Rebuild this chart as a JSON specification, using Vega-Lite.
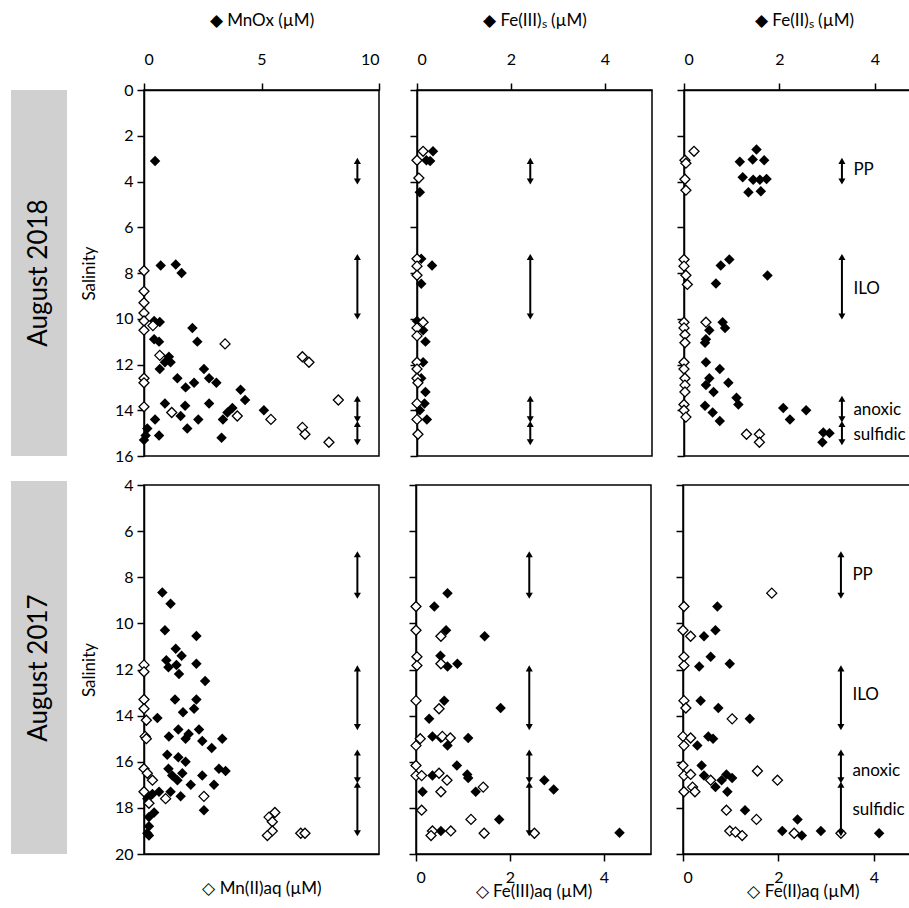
{
"$schema":"https://vega.github.io/schema/vega-lite/v6.json",
"padding":{"left":10,"top":10,"right":0,"bottom":0},
"config":{"font":"Lato","view":{"stroke":"black","strokeWidth":1.5},"axis":{"grid":false,"domainColor":"black","tickColor":"black","labelColor":"black","titleColor":"black","labelFontSize":16,"titleFontSize":17,"titleFontWeight":"normal","tickSize":7,"domainWidth":1.5,"tickWidth":1.5,"labelFont":"Lato","titleFont":"Lato"}},
"datasets":{
"m18":[{"k":"s","x":0.47,"y":3.1},{"k":"s","x":0.71,"y":7.67},{"k":"s","x":1.35,"y":7.63},{"k":"s","x":1.6,"y":8.0},{"k":"s","x":0.43,"y":10.1},{"k":"s","x":0.67,"y":10.14},{"k":"s","x":2.06,"y":10.4},{"k":"s","x":2.27,"y":11.0},{"k":"s","x":0.43,"y":10.9},{"k":"s","x":0.64,"y":11.0},{"k":"s","x":1.06,"y":11.66},{"k":"s","x":1.13,"y":11.9},{"k":"s","x":0.67,"y":12.2},{"k":"s","x":0.89,"y":11.9},{"k":"s","x":2.55,"y":12.2},{"k":"s","x":1.42,"y":12.6},{"k":"s","x":1.77,"y":13.0},{"k":"s","x":2.13,"y":12.8},{"k":"s","x":2.77,"y":12.6},{"k":"s","x":3.08,"y":12.8},{"k":"s","x":4.11,"y":13.1},{"k":"s","x":4.3,"y":13.55},{"k":"s","x":0.89,"y":13.7},{"k":"s","x":1.75,"y":13.8},{"k":"s","x":1.56,"y":14.25},{"k":"s","x":2.77,"y":13.7},{"k":"s","x":3.76,"y":13.9},{"k":"s","x":3.55,"y":14.1},{"k":"s","x":3.36,"y":14.4},{"k":"s","x":5.1,"y":14.0},{"k":"s","x":0.47,"y":14.4},{"k":"s","x":2.31,"y":14.4},{"k":"s","x":1.84,"y":14.8},{"k":"s","x":3.3,"y":15.2},{"k":"s","x":0.64,"y":15.1},{"k":"s","x":0.14,"y":14.8},{"k":"s","x":0.07,"y":15.1},{"k":"s","x":0.0,"y":15.3},
{"k":"aq","x":0,"y":7.9},{"k":"aq","x":0,"y":8.8},{"k":"aq","x":0,"y":9.3},{"k":"aq","x":0,"y":9.75},{"k":"aq","x":0,"y":10.1},{"k":"aq","x":0,"y":10.5},{"k":"aq","x":0.38,"y":10.3},{"k":"aq","x":3.45,"y":11.1},{"k":"aq","x":0.67,"y":11.6},{"k":"aq","x":0,"y":12.6},{"k":"aq","x":0,"y":12.8},{"k":"aq","x":0,"y":13.85},{"k":"aq","x":1.18,"y":14.1},{"k":"aq","x":3.97,"y":14.25},{"k":"aq","x":5.4,"y":14.4},{"k":"aq","x":6.74,"y":11.66},{"k":"aq","x":7.02,"y":11.9},{"k":"aq","x":8.27,"y":13.55},{"k":"aq","x":6.74,"y":14.75},{"k":"aq","x":6.85,"y":15.05},{"k":"aq","x":7.87,"y":15.4}],
"f318":[{"k":"s","x":0.34,"y":2.68},{"k":"s","x":0.28,"y":3.1},{"k":"s","x":0.2,"y":3.07},{"k":"s","x":0.06,"y":4.47},{"k":"s","x":0.09,"y":7.38},{"k":"s","x":0.32,"y":7.67},{"k":"s","x":0.09,"y":8.47},{"k":"s","x":0.0,"y":10.1},{"k":"s","x":0.13,"y":10.5},{"k":"s","x":0.18,"y":11.0},{"k":"s","x":0.13,"y":11.9},{"k":"s","x":0.09,"y":12.6},{"k":"s","x":0.18,"y":13.2},{"k":"s","x":0.16,"y":13.7},{"k":"s","x":0.06,"y":14.0},{"k":"s","x":0.21,"y":14.4},
{"k":"aq","x":0.13,"y":2.68},{"k":"aq","x":0,"y":3.07},{"k":"aq","x":0.04,"y":3.85},{"k":"aq","x":0,"y":7.38},{"k":"aq","x":0,"y":7.7},{"k":"aq","x":0,"y":8.1},{"k":"aq","x":0.13,"y":10.15},{"k":"aq","x":0,"y":10.4},{"k":"aq","x":0,"y":10.75},{"k":"aq","x":0,"y":11.9},{"k":"aq","x":0,"y":12.2},{"k":"aq","x":0,"y":12.6},{"k":"aq","x":0.02,"y":12.8},{"k":"aq","x":0,"y":13.7},{"k":"aq","x":0,"y":14.4},{"k":"aq","x":0.02,"y":15.05}],
"f218":[{"k":"s","x":1.52,"y":2.6},{"k":"s","x":1.17,"y":3.14},{"k":"s","x":1.44,"y":3.04},{"k":"s","x":1.68,"y":3.07},{"k":"s","x":1.23,"y":3.81},{"k":"s","x":1.45,"y":3.92},{"k":"s","x":1.59,"y":3.92},{"k":"s","x":1.73,"y":3.89},{"k":"s","x":1.35,"y":4.47},{"k":"s","x":1.61,"y":4.43},{"k":"s","x":0.95,"y":7.41},{"k":"s","x":0.77,"y":7.67},{"k":"s","x":0.67,"y":8.46},{"k":"s","x":1.75,"y":8.11},{"k":"s","x":0.81,"y":10.15},{"k":"s","x":0.86,"y":10.4},{"k":"s","x":0.53,"y":10.5},{"k":"s","x":0.46,"y":10.9},{"k":"s","x":0.44,"y":11.05},{"k":"s","x":0.46,"y":11.9},{"k":"s","x":0.75,"y":12.2},{"k":"s","x":0.53,"y":12.6},{"k":"s","x":0.93,"y":12.8},{"k":"s","x":0.46,"y":12.9},{"k":"s","x":0.62,"y":13.2},{"k":"s","x":1.1,"y":13.45},{"k":"s","x":1.14,"y":13.75},{"k":"s","x":0.44,"y":13.8},{"k":"s","x":0.6,"y":14.1},{"k":"s","x":0.75,"y":14.47},{"k":"s","x":2.08,"y":13.9},{"k":"s","x":2.22,"y":14.4},{"k":"s","x":2.56,"y":14.0},{"k":"s","x":2.92,"y":14.97},{"k":"s","x":3.05,"y":15.0},{"k":"s","x":2.9,"y":15.4},
{"k":"aq","x":0.21,"y":2.68},{"k":"aq","x":0.02,"y":3.07},{"k":"aq","x":0.04,"y":3.2},{"k":"aq","x":0.02,"y":3.9},{"k":"aq","x":0.04,"y":4.38},{"k":"aq","x":0,"y":7.41},{"k":"aq","x":0,"y":7.7},{"k":"aq","x":0.04,"y":8.1},{"k":"aq","x":0.07,"y":8.5},{"k":"aq","x":0,"y":10.15},{"k":"aq","x":0,"y":10.4},{"k":"aq","x":0.02,"y":10.7},{"k":"aq","x":0.02,"y":11.05},{"k":"aq","x":0.46,"y":10.15},{"k":"aq","x":0,"y":11.9},{"k":"aq","x":0,"y":12.2},{"k":"aq","x":0.02,"y":12.6},{"k":"aq","x":0.02,"y":12.9},{"k":"aq","x":0.02,"y":13.2},{"k":"aq","x":0,"y":13.75},{"k":"aq","x":0,"y":14.0},{"k":"aq","x":0.04,"y":14.3},{"k":"aq","x":1.31,"y":15.05},{"k":"aq","x":1.58,"y":15.05},{"k":"aq","x":1.58,"y":15.4}],
"m17":[{"k":"s","x":0.78,"y":8.66},{"k":"s","x":1.13,"y":9.15},{"k":"s","x":0.89,"y":10.3},{"k":"s","x":2.23,"y":10.55},{"k":"s","x":1.35,"y":11.1},{"k":"s","x":1.6,"y":11.4},{"k":"s","x":0.95,"y":11.6},{"k":"s","x":1.04,"y":11.9},{"k":"s","x":1.38,"y":11.8},{"k":"s","x":1.49,"y":12.2},{"k":"s","x":2.23,"y":11.75},{"k":"s","x":2.6,"y":12.5},{"k":"s","x":1.32,"y":13.3},{"k":"s","x":2.23,"y":13.3},{"k":"s","x":2.13,"y":13.7},{"k":"s","x":1.66,"y":13.85},{"k":"s","x":0.57,"y":14.1},{"k":"s","x":1.46,"y":14.6},{"k":"s","x":2.34,"y":14.6},{"k":"s","x":1.77,"y":15.0},{"k":"s","x":1.9,"y":14.8},{"k":"s","x":1.06,"y":14.9},{"k":"s","x":2.48,"y":15.1},{"k":"s","x":2.88,"y":15.4},{"k":"s","x":3.33,"y":15.0},{"k":"s","x":0.99,"y":15.7},{"k":"s","x":1.46,"y":15.8},{"k":"s","x":1.77,"y":16.0},{"k":"s","x":1.04,"y":16.3},{"k":"s","x":3.19,"y":16.3},{"k":"s","x":3.47,"y":16.4},{"k":"s","x":2.48,"y":16.6},{"k":"s","x":2.98,"y":17.0},{"k":"s","x":1.2,"y":16.6},{"k":"s","x":1.63,"y":16.5},{"k":"s","x":1.42,"y":16.8},{"k":"s","x":1.99,"y":17.0},{"k":"s","x":1.56,"y":17.5},{"k":"s","x":1.13,"y":17.3},{"k":"s","x":0.64,"y":17.3},{"k":"s","x":0.36,"y":17.4},{"k":"s","x":0.43,"y":18.2},{"k":"s","x":0.21,"y":18.4},{"k":"s","x":0.21,"y":18.8},{"k":"s","x":0.21,"y":19.2},{"k":"s","x":2.55,"y":18.1},{"k":"s","x":0.14,"y":17.6},{"k":"s","x":0.14,"y":19.1},
{"k":"aq","x":0,"y":11.8},{"k":"aq","x":0,"y":12.1},{"k":"aq","x":0,"y":13.3},{"k":"aq","x":0,"y":13.7},{"k":"aq","x":0.1,"y":14.2},{"k":"aq","x":0.05,"y":14.9},{"k":"aq","x":0.1,"y":15.0},{"k":"aq","x":0,"y":16.3},{"k":"aq","x":0.14,"y":16.5},{"k":"aq","x":0.36,"y":16.8},{"k":"aq","x":0,"y":17.3},{"k":"aq","x":0.21,"y":17.8},{"k":"aq","x":0.92,"y":17.6},{"k":"aq","x":2.55,"y":17.5},{"k":"aq","x":5.32,"y":18.4},{"k":"aq","x":5.57,"y":18.2},{"k":"aq","x":5.46,"y":18.6},{"k":"aq","x":5.46,"y":19.0},{"k":"aq","x":5.25,"y":19.2},{"k":"aq","x":6.67,"y":19.1},{"k":"aq","x":6.85,"y":19.1}],
"f317":[{"k":"s","x":0.67,"y":8.69},{"k":"s","x":0.39,"y":9.27},{"k":"s","x":0.64,"y":10.3},{"k":"s","x":1.46,"y":10.56},{"k":"s","x":0.52,"y":11.4},{"k":"s","x":0.67,"y":11.87},{"k":"s","x":0.88,"y":11.75},{"k":"s","x":0.6,"y":13.35},{"k":"s","x":1.8,"y":13.67},{"k":"s","x":0.28,"y":14.14},{"k":"s","x":0.35,"y":14.9},{"k":"s","x":0.53,"y":14.97},{"k":"s","x":0.67,"y":15.3},{"k":"s","x":1.11,"y":14.97},{"k":"s","x":0.87,"y":16.16},{"k":"s","x":0.35,"y":16.6},{"k":"s","x":1.09,"y":16.55},{"k":"s","x":1.11,"y":16.7},{"k":"s","x":0.14,"y":17.3},{"k":"s","x":1.27,"y":17.3},{"k":"s","x":2.73,"y":16.8},{"k":"s","x":2.93,"y":17.2},{"k":"s","x":1.77,"y":18.5},{"k":"s","x":0.53,"y":19.0},{"k":"s","x":4.33,"y":19.08},
{"k":"aq","x":0,"y":9.27},{"k":"aq","x":0,"y":10.3},{"k":"aq","x":0.02,"y":11.45},{"k":"aq","x":0.02,"y":11.83},{"k":"aq","x":0.53,"y":10.56},{"k":"aq","x":0.53,"y":11.75},{"k":"aq","x":0,"y":13.35},{"k":"aq","x":0.49,"y":13.7},{"k":"aq","x":0.09,"y":15.0},{"k":"aq","x":0,"y":15.3},{"k":"aq","x":0.56,"y":14.9},{"k":"aq","x":0.73,"y":14.97},{"k":"aq","x":0,"y":16.16},{"k":"aq","x":0,"y":16.6},{"k":"aq","x":0.12,"y":16.6},{"k":"aq","x":0.49,"y":16.5},{"k":"aq","x":0.66,"y":16.8},{"k":"aq","x":0.53,"y":17.3},{"k":"aq","x":1.43,"y":17.1},{"k":"aq","x":0.12,"y":18.1},{"k":"aq","x":1.17,"y":18.5},{"k":"aq","x":0.35,"y":19.0},{"k":"aq","x":0.32,"y":19.2},{"k":"aq","x":0.74,"y":19.0},{"k":"aq","x":1.45,"y":19.1},{"k":"aq","x":2.52,"y":19.1}],
"f217":[{"k":"s","x":0.72,"y":9.27},{"k":"s","x":0.44,"y":10.56},{"k":"s","x":0.68,"y":10.3},{"k":"s","x":0.34,"y":11.87},{"k":"s","x":0.58,"y":11.45},{"k":"s","x":0.98,"y":11.75},{"k":"s","x":0.37,"y":13.35},{"k":"s","x":0.74,"y":13.67},{"k":"s","x":1.4,"y":14.14},{"k":"s","x":0.3,"y":15.3},{"k":"s","x":0.53,"y":14.9},{"k":"s","x":0.63,"y":15.0},{"k":"s","x":0.39,"y":16.16},{"k":"s","x":0.44,"y":16.6},{"k":"s","x":0.68,"y":17.1},{"k":"s","x":0.81,"y":16.8},{"k":"s","x":0.91,"y":16.55},{"k":"s","x":1.03,"y":16.7},{"k":"s","x":0.93,"y":17.3},{"k":"s","x":1.3,"y":18.1},{"k":"s","x":2.4,"y":18.5},{"k":"s","x":2.08,"y":19.0},{"k":"s","x":2.49,"y":19.2},{"k":"s","x":2.89,"y":19.0},{"k":"s","x":4.11,"y":19.1},
{"k":"aq","x":1.86,"y":8.69},{"k":"aq","x":0.02,"y":9.27},{"k":"aq","x":0,"y":10.3},{"k":"aq","x":0.16,"y":10.56},{"k":"aq","x":0.02,"y":11.45},{"k":"aq","x":0.02,"y":11.83},{"k":"aq","x":0.02,"y":13.35},{"k":"aq","x":0.06,"y":13.67},{"k":"aq","x":1.03,"y":14.14},{"k":"aq","x":0,"y":14.9},{"k":"aq","x":0.16,"y":14.97},{"k":"aq","x":0.02,"y":15.3},{"k":"aq","x":0,"y":16.16},{"k":"aq","x":0.02,"y":16.6},{"k":"aq","x":0.16,"y":16.55},{"k":"aq","x":0.2,"y":17.1},{"k":"aq","x":0.25,"y":17.3},{"k":"aq","x":0.02,"y":17.3},{"k":"aq","x":0.58,"y":16.8},{"k":"aq","x":1.56,"y":16.4},{"k":"aq","x":1.98,"y":16.8},{"k":"aq","x":0.91,"y":18.1},{"k":"aq","x":1.54,"y":18.5},{"k":"aq","x":0.98,"y":19.0},{"k":"aq","x":1.1,"y":19.05},{"k":"aq","x":1.24,"y":19.2},{"k":"aq","x":2.33,"y":19.1},{"k":"aq","x":3.31,"y":19.1}],
"arr18":[{"y":3.1,"y2":4.0},{"y":7.3,"y2":9.9},{"y":13.5,"y2":14.4},{"y":14.6,"y2":15.4}],
"arr17":[{"y":7.0,"y2":8.8},{"y":11.95,"y2":14.5},{"y":15.6,"y2":16.8},{"y":17.0,"y2":19.1}],
"lab18":[{"t":"PP","y":3.5},{"t":"ILO","y":8.7},{"t":"anoxic","y":14.0},{"t":"sulfidic","y":15.1}],
"lab17":[{"t":"PP","y":7.9},{"t":"ILO","y":13.1},{"t":"anoxic","y":16.4},{"t":"sulfidic","y":18.1}]
},
"vconcat":[
{"hconcat":[
{"width":235,"height":366,"layer":[
{"data":{"values":[{"t":"August 2018"}]},"mark":{"type":"rect","color":"#d0d0d0"},"encoding":{"x":{"value":-133},"x2":{"value":-77},"y":{"value":0},"y2":{"value":"height"}}},
{"data":{"values":[{"t":"August 2018"}]},"mark":{"type":"text","angle":270,"fontSize":26,"font":"Lato","color":"black"},"encoding":{"x":{"value":-105},"y":{"value":183},"text":{"field":"t"}}},
{"data":{"name":"m18"},"transform":[{"filter":"datum.k=='s'"}],"mark":{"type":"point","shape":"diamond","filled":true,"color":"black","size":110,"opacity":1},"encoding":{"x":{"field":"x","type":"quantitative","scale":{"domain":[0,10],"nice":false},"axis":{"orient":"top","values":[0,5,10],"title":"◆ MnOx (µM)","labelPadding":16,"titlePadding":22}},"y":{"field":"y","type":"quantitative","scale":{"domain":[0,16],"reverse":true,"nice":false},"axis":{"values":[0,2,4,6,8,10,12,14,16],"title":"Salinity","titlePadding":16,"labelPadding":4,"titleFontSize":17}}}},
{"data":{"name":"m18"},"transform":[{"filter":"datum.k=='aq'"}],"mark":{"type":"point","shape":"diamond","filled":true,"fill":"white","stroke":"black","strokeWidth":1.3,"size":100,"opacity":1},"encoding":{"x":{"field":"x","type":"quantitative"},"y":{"field":"y","type":"quantitative"}}},
{"data":{"name":"arr18"},"mark":{"type":"rule","strokeWidth":2,"color":"black"},"encoding":{"x":{"datum":9.08},"y":{"field":"y","type":"quantitative"},"y2":{"field":"y2"}}},
{"data":{"name":"arr18"},"mark":{"type":"point","shape":"triangle-up","filled":true,"color":"black","size":50,"opacity":1},"encoding":{"x":{"datum":9.08},"y":{"field":"y","type":"quantitative"}}},
{"data":{"name":"arr18"},"mark":{"type":"point","shape":"triangle-down","filled":true,"color":"black","size":50,"opacity":1},"encoding":{"x":{"datum":9.08},"y":{"field":"y2","type":"quantitative"}}}
]},
{"width":235,"height":366,"layer":[
{"data":{"name":"f318"},"transform":[{"filter":"datum.k=='s'"}],"mark":{"type":"point","shape":"diamond","filled":true,"color":"black","size":110,"opacity":1},"encoding":{"x":{"field":"x","type":"quantitative","scale":{"domain":[0,5],"nice":false},"axis":{"orient":"top","values":[0,2,4],"title":"◆ Fe(III)ₛ (µM)","labelPadding":16,"titlePadding":22}},"y":{"field":"y","type":"quantitative","scale":{"domain":[0,16],"reverse":true,"nice":false},"axis":{"values":[0,2,4,6,8,10,12,14,16],"labels":false,"title":null,"minExtent":25,"maxExtent":25}}}},
{"data":{"name":"f318"},"transform":[{"filter":"datum.k=='aq'"}],"mark":{"type":"point","shape":"diamond","filled":true,"fill":"white","stroke":"black","strokeWidth":1.3,"size":100,"opacity":1},"encoding":{"x":{"field":"x","type":"quantitative"},"y":{"field":"y","type":"quantitative"}}},
{"data":{"name":"arr18"},"mark":{"type":"rule","strokeWidth":2,"color":"black"},"encoding":{"x":{"datum":2.41},"y":{"field":"y","type":"quantitative"},"y2":{"field":"y2"}}},
{"data":{"name":"arr18"},"mark":{"type":"point","shape":"triangle-up","filled":true,"color":"black","size":50,"opacity":1},"encoding":{"x":{"datum":2.41},"y":{"field":"y","type":"quantitative"}}},
{"data":{"name":"arr18"},"mark":{"type":"point","shape":"triangle-down","filled":true,"color":"black","size":50,"opacity":1},"encoding":{"x":{"datum":2.41},"y":{"field":"y2","type":"quantitative"}}}
]},
{"width":240,"height":366,"layer":[
{"data":{"name":"f218"},"transform":[{"filter":"datum.k=='s'"}],"mark":{"type":"point","shape":"diamond","filled":true,"color":"black","size":110,"opacity":1},"encoding":{"x":{"field":"x","type":"quantitative","scale":{"domain":[0,5.03],"nice":false},"axis":{"orient":"top","values":[0,2,4],"title":"◆ Fe(II)ₛ (µM)","labelPadding":16,"titlePadding":22}},"y":{"field":"y","type":"quantitative","scale":{"domain":[0,16],"reverse":true,"nice":false},"axis":{"values":[0,2,4,6,8,10,12,14,16],"labels":false,"title":null,"minExtent":20,"maxExtent":20}}}},
{"data":{"name":"f218"},"transform":[{"filter":"datum.k=='aq'"}],"mark":{"type":"point","shape":"diamond","filled":true,"fill":"white","stroke":"black","strokeWidth":1.3,"size":100,"opacity":1},"encoding":{"x":{"field":"x","type":"quantitative"},"y":{"field":"y","type":"quantitative"}}},
{"data":{"name":"arr18"},"mark":{"type":"rule","strokeWidth":2,"color":"black"},"encoding":{"x":{"datum":3.31},"y":{"field":"y","type":"quantitative"},"y2":{"field":"y2"}}},
{"data":{"name":"arr18"},"mark":{"type":"point","shape":"triangle-up","filled":true,"color":"black","size":50,"opacity":1},"encoding":{"x":{"datum":3.31},"y":{"field":"y","type":"quantitative"}}},
{"data":{"name":"arr18"},"mark":{"type":"point","shape":"triangle-down","filled":true,"color":"black","size":50,"opacity":1},"encoding":{"x":{"datum":3.31},"y":{"field":"y2","type":"quantitative"}}},
{"data":{"name":"lab18"},"mark":{"type":"text","align":"left","fontSize":17,"font":"Lato","color":"black"},"encoding":{"x":{"datum":3.55},"y":{"field":"y","type":"quantitative"},"text":{"field":"t"}}}
]}
],"spacing":10},
{"hconcat":[
{"width":235,"height":369,"layer":[
{"data":{"values":[{"t":"August 2017"}]},"mark":{"type":"rect","color":"#d0d0d0"},"encoding":{"x":{"value":-133},"x2":{"value":-77},"y":{"value":-4},"y2":{"value":"height"}}},
{"data":{"values":[{"t":"August 2017"}]},"mark":{"type":"text","angle":270,"fontSize":26,"font":"Lato","color":"black"},"encoding":{"x":{"value":-105},"y":{"value":183},"text":{"field":"t"}}},
{"data":{"name":"m17"},"transform":[{"filter":"datum.k=='s'"}],"mark":{"type":"point","shape":"diamond","filled":true,"color":"black","size":110,"opacity":1},"encoding":{"x":{"field":"x","type":"quantitative","scale":{"domain":[0,10],"nice":false},"axis":{"orient":"bottom","labels":false,"ticks":false,"title":"◇ Mn(II)aq (µM)","titlePadding":26}},"y":{"field":"y","type":"quantitative","scale":{"domain":[4,20],"reverse":true,"nice":false},"axis":{"values":[4,6,8,10,12,14,16,18,20],"title":"Salinity","titlePadding":16,"labelPadding":4,"titleFontSize":17}}}},
{"data":{"name":"m17"},"transform":[{"filter":"datum.k=='aq'"}],"mark":{"type":"point","shape":"diamond","filled":true,"fill":"white","stroke":"black","strokeWidth":1.3,"size":100,"opacity":1},"encoding":{"x":{"field":"x","type":"quantitative"},"y":{"field":"y","type":"quantitative"}}},
{"data":{"name":"arr17"},"mark":{"type":"rule","strokeWidth":2,"color":"black"},"encoding":{"x":{"datum":9.08},"y":{"field":"y","type":"quantitative"},"y2":{"field":"y2"}}},
{"data":{"name":"arr17"},"mark":{"type":"point","shape":"triangle-up","filled":true,"color":"black","size":50,"opacity":1},"encoding":{"x":{"datum":9.08},"y":{"field":"y","type":"quantitative"}}},
{"data":{"name":"arr17"},"mark":{"type":"point","shape":"triangle-down","filled":true,"color":"black","size":50,"opacity":1},"encoding":{"x":{"datum":9.08},"y":{"field":"y2","type":"quantitative"}}}
]},
{"width":235,"height":369,"layer":[
{"data":{"name":"f317"},"transform":[{"filter":"datum.k=='s'"}],"mark":{"type":"point","shape":"diamond","filled":true,"color":"black","size":110,"opacity":1},"encoding":{"x":{"field":"x","type":"quantitative","scale":{"domain":[0,5],"nice":false},"axis":{"orient":"bottom","values":[0,2,4],"title":"◇ Fe(III)aq (µM)","labelPadding":8,"titlePadding":-2}},"y":{"field":"y","type":"quantitative","scale":{"domain":[4,20],"reverse":true,"nice":false},"axis":{"values":[4,6,8,10,12,14,16,18,20],"labels":false,"title":null,"minExtent":25,"maxExtent":25}}}},
{"data":{"name":"f317"},"transform":[{"filter":"datum.k=='aq'"}],"mark":{"type":"point","shape":"diamond","filled":true,"fill":"white","stroke":"black","strokeWidth":1.3,"size":100,"opacity":1},"encoding":{"x":{"field":"x","type":"quantitative"},"y":{"field":"y","type":"quantitative"}}},
{"data":{"name":"arr17"},"mark":{"type":"rule","strokeWidth":2,"color":"black"},"encoding":{"x":{"datum":2.41},"y":{"field":"y","type":"quantitative"},"y2":{"field":"y2"}}},
{"data":{"name":"arr17"},"mark":{"type":"point","shape":"triangle-up","filled":true,"color":"black","size":50,"opacity":1},"encoding":{"x":{"datum":2.41},"y":{"field":"y","type":"quantitative"}}},
{"data":{"name":"arr17"},"mark":{"type":"point","shape":"triangle-down","filled":true,"color":"black","size":50,"opacity":1},"encoding":{"x":{"datum":2.41},"y":{"field":"y2","type":"quantitative"}}}
]},
{"width":240,"height":369,"layer":[
{"data":{"name":"f217"},"transform":[{"filter":"datum.k=='s'"}],"mark":{"type":"point","shape":"diamond","filled":true,"color":"black","size":110,"opacity":1},"encoding":{"x":{"field":"x","type":"quantitative","scale":{"domain":[0,5.03],"nice":false},"axis":{"orient":"bottom","values":[0,2,4],"title":"◇ Fe(II)aq (µM)","labelPadding":8,"titlePadding":-2}},"y":{"field":"y","type":"quantitative","scale":{"domain":[4,20],"reverse":true,"nice":false},"axis":{"values":[4,6,8,10,12,14,16,18,20],"labels":false,"title":null,"minExtent":20,"maxExtent":20}}}},
{"data":{"name":"f217"},"transform":[{"filter":"datum.k=='aq'"}],"mark":{"type":"point","shape":"diamond","filled":true,"fill":"white","stroke":"black","strokeWidth":1.3,"size":100,"opacity":1},"encoding":{"x":{"field":"x","type":"quantitative"},"y":{"field":"y","type":"quantitative"}}},
{"data":{"name":"arr17"},"mark":{"type":"rule","strokeWidth":2,"color":"black"},"encoding":{"x":{"datum":3.31},"y":{"field":"y","type":"quantitative"},"y2":{"field":"y2"}}},
{"data":{"name":"arr17"},"mark":{"type":"point","shape":"triangle-up","filled":true,"color":"black","size":50,"opacity":1},"encoding":{"x":{"datum":3.31},"y":{"field":"y","type":"quantitative"}}},
{"data":{"name":"arr17"},"mark":{"type":"point","shape":"triangle-down","filled":true,"color":"black","size":50,"opacity":1},"encoding":{"x":{"datum":3.31},"y":{"field":"y2","type":"quantitative"}}},
{"data":{"name":"lab17"},"mark":{"type":"text","align":"left","fontSize":17,"font":"Lato","color":"black"},"encoding":{"x":{"datum":3.55},"y":{"field":"y","type":"quantitative"},"text":{"field":"t"}}}
]}
],"spacing":10}
],"spacing":11}
